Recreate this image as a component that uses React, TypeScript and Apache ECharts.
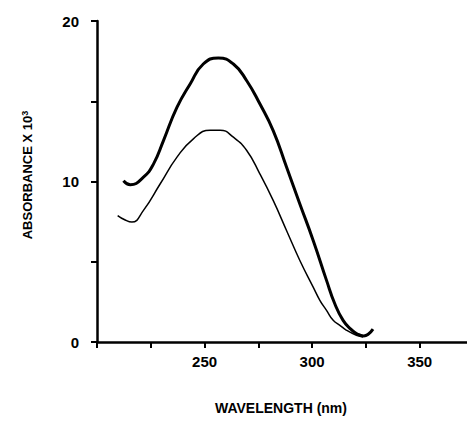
import React, { useEffect, useRef } from "react";
import * as echarts from "echarts";

// Thick curve (upper)
const thickWavelength = [212.3, 215.5, 221.6, 226.3, 230.9, 237.1, 243.3, 249.4, 256.4, 263.4, 269.6, 275.7, 281.9, 288.1, 294.3, 300.5, 306.7, 310.5, 314.4, 318, 321, 324, 326.2, 328.3];
const thickAbsorbance = [10.05, 9.8, 10.27, 11.1, 12.55, 14.6, 16.08, 17.32, 17.7, 17.32, 16.28, 14.84, 13.17, 10.9, 8.6, 6.33, 3.84, 2.4, 1.35, 0.8, 0.5, 0.38, 0.5, 0.8];

// Thin curve (lower)
const thinWavelength = [209.6, 213.1, 216.2, 221.6, 229.4, 237.1, 244.8, 252.6, 257.2, 263.4, 269.6, 275.7, 281.9, 288.1, 294.3, 300.5, 303.6, 306.7, 309.8, 312.9, 316, 320.6, 323.7];
const thinAbsorbance = [7.88, 7.6, 7.47, 8.2, 9.86, 11.5, 12.66, 13.2, 13.2, 12.76, 11.93, 10.48, 8.82, 6.95, 5.08, 3.42, 2.6, 1.97, 1.35, 1.04, 0.73, 0.42, 0.31];

const xTickLabels = [250, 300, 350];
const yTickLabels = [0, 10, 20];

const FONT = "Liberation Sans";

export default function App() {
  const ref = useRef<HTMLDivElement>(null);
  useEffect(() => {
    if (!ref.current) return;
    const chart = echarts.init(ref.current, undefined, { renderer: "svg" });
    const thick = thickWavelength.map((w, i) => [w, thickAbsorbance[i]]);
    const thin = thinWavelength.map((w, i) => [w, thinAbsorbance[i]]);
    chart.setOption({
      animation: false,
      backgroundColor: "#ffffff",
      grid: { left: 97, right: 0, top: 21, bottom: 81, containLabel: false },
      xAxis: {
        type: "value",
        min: 200,
        max: 372,
        interval: 25,
        splitLine: { show: false },
        axisLine: { show: true, onZero: false, lineStyle: { color: "#000", width: 2.5 } },
        axisTick: { show: true, inside: false, length: 6, lineStyle: { color: "#000", width: 2 } },
        axisLabel: {
          margin: 12,
          color: "#000",
          fontFamily: FONT,
          fontWeight: "bold",
          fontSize: 15,
          showMaxLabel: false,
          formatter: (v: number) => (xTickLabels.includes(v) ? String(v) : ""),
        },
      },
      yAxis: {
        type: "value",
        min: 0,
        max: 20,
        interval: 5,
        splitLine: { show: false },
        axisLine: { show: true, onZero: false, lineStyle: { color: "#000", width: 2.5 } },
        axisTick: { show: true, inside: false, length: 6, lineStyle: { color: "#000", width: 2 } },
        axisLabel: {
          margin: 18,
          color: "#000",
          fontFamily: FONT,
          fontWeight: "bold",
          fontSize: 15,
          formatter: (v: number) => (yTickLabels.includes(v) ? String(v) : ""),
        },
      },
      series: [
        {
          type: "line",
          data: thick,
          smooth: 0.5,
          symbol: "none",
          lineStyle: { color: "#000", width: 3 },
        },
        {
          type: "line",
          data: thin,
          smooth: 0.5,
          symbol: "none",
          lineStyle: { color: "#000", width: 1.5 },
        },
      ],
      graphic: [
        {
          type: "text",
          x: 27,
          y: 175,
          rotation: Math.PI / 2,
          style: {
            text: "ABSORBANCE X 10{s|3}",
            fontFamily: FONT,
            fontWeight: "bold",
            fontSize: 13,
            fill: "#000",
            align: "center",
            verticalAlign: "middle",
            rich: {
              s: { fontFamily: FONT, fontWeight: "bold", fontSize: 9, verticalAlign: "top", fill: "#000" },
            },
          },
        },
        {
          type: "text",
          x: 281,
          y: 408,
          style: {
            text: "WAVELENGTH (nm)",
            fontFamily: FONT,
            fontWeight: "bold",
            fontSize: 14,
            fill: "#000",
            align: "center",
            verticalAlign: "middle",
          },
        },
      ],
    });
    return () => chart.dispose();
  }, []);
  return (
    <div
      ref={ref}
      style={{ position: "absolute", left: 0, top: 0, width: 467, height: 423 }}
    />
  );
}
